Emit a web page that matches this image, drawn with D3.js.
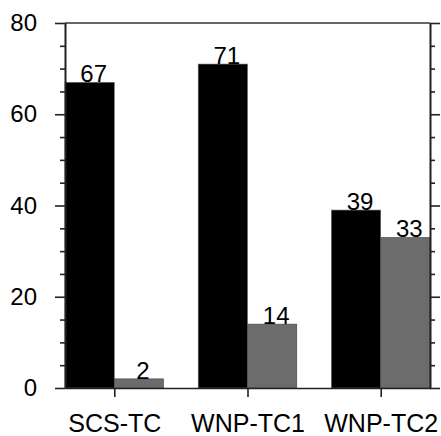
<!DOCTYPE html>
<html>
<head>
<meta charset="utf-8">
<script src="https://cdn.jsdelivr.net/npm/d3@7"></script>
<style>
  body { margin: 0; background: #fff; }
  text { font-family: "Liberation Sans", Arial, sans-serif; }
</style>
</head>
<body>
<div id="chart"></div>
<script>
// chart data
var categories = ["SCS-TC", "WNP-TC1", "WNP-TC2"];
var blackValues = [67, 71, 39];
var grayValues = [2, 14, 33];
var majorTicks = [0, 20, 40, 60, 80];
var minorTicks = [5, 10, 15, 25, 30, 35, 45, 50, 55, 65, 70, 75];

var width = 441, height = 436;
// plot box (note: "top" is reserved on window, so use prefixed names)
var plotLeft = 65, plotRight = 430, plotTop = 23, plotBottom = 388;
var barW = 0.37;

var svg = d3.select("#chart").append("svg")
  .attr("width", width)
  .attr("height", height);

var x = d3.scaleLinear().domain([0.63, 3.37]).range([plotLeft, plotRight]);
var y = d3.scaleLinear().domain([0, 80]).range([plotBottom, plotTop]);

// bars
var pos = categories.map(function(d, i) { return i + 1; });

svg.selectAll(".bar-black")
  .data(blackValues)
  .enter().append("rect")
  .attr("x", function(d, i) { return x(pos[i] - barW); })
  .attr("width", function(d, i) { return x(pos[i]) - x(pos[i] - barW); })
  .attr("y", function(d) { return y(d); })
  .attr("height", function(d) { return y(0) - y(d); })
  .attr("fill", "#000")
  .attr("stroke", "#666")
  .attr("stroke-width", 0.6);

svg.selectAll(".bar-gray")
  .data(grayValues)
  .enter().append("rect")
  .attr("x", function(d, i) { return x(pos[i]); })
  .attr("width", function(d, i) { return x(pos[i] + barW) - x(pos[i]); })
  .attr("y", function(d) { return y(d); })
  .attr("height", function(d) { return y(0) - y(d); })
  .attr("fill", "#6c6c6c")
  .attr("stroke", "#444")
  .attr("stroke-width", 0.6);

// value labels
svg.selectAll(".lab-black")
  .data(blackValues)
  .enter().append("text")
  .attr("x", function(d, i) { return x(pos[i] - barW / 2) + 4; })
  .attr("y", function(d) { return y(d); })
  .attr("text-anchor", "middle")
  .style("font-size", "24px")
  .attr("fill", "#000")
  .text(function(d) { return d; });

svg.selectAll(".lab-gray")
  .data(grayValues)
  .enter().append("text")
  .attr("x", function(d, i) { return x(pos[i] + barW / 2) + 4; })
  .attr("y", function(d) { return y(d); })
  .attr("text-anchor", "middle")
  .style("font-size", "24px")
  .attr("fill", "#000")
  .text(function(d) { return d; });

// top frame line
svg.append("line")
  .attr("x1", x(0.63)).attr("x2", x(3.37))
  .attr("y1", y(80)).attr("y2", y(80))
  .attr("stroke", "#333")
  .attr("stroke-width", 1.6);

function styleAxis(g) {
  g.selectAll("path, line").attr("stroke", "#222").attr("stroke-width", 1.6);
  g.selectAll("text").attr("fill", "#000").style("font-family", "Liberation Sans, Arial, sans-serif");
}

// left axis
var gl = svg.append("g")
  .attr("transform", "translate(" + plotLeft + ",0)")
  .call(d3.axisLeft(y).tickValues(majorTicks).tickSize(10).tickPadding(18).tickSizeOuter(0));
styleAxis(gl);
gl.selectAll("text").style("font-size", "24px");

svg.append("g")
  .attr("transform", "translate(" + plotLeft + ",0)")
  .call(d3.axisLeft(y).tickValues(minorTicks).tickSize(5).tickFormat("").tickSizeOuter(0))
  .call(styleAxis);

// right axis
svg.append("g")
  .attr("transform", "translate(" + plotRight + ",0)")
  .call(d3.axisRight(y).tickValues(majorTicks).tickSize(10).tickFormat("").tickSizeOuter(0))
  .call(styleAxis);

svg.append("g")
  .attr("transform", "translate(" + plotRight + ",0)")
  .call(d3.axisRight(y).tickValues(minorTicks).tickSize(5).tickFormat("").tickSizeOuter(0))
  .call(styleAxis);

// bottom axis
var gb = svg.append("g")
  .attr("transform", "translate(0," + plotBottom + ")")
  .call(d3.axisBottom(x).tickValues(pos).tickSize(9).tickPadding(17).tickSizeOuter(0)
    .tickFormat(function(d) { return categories[d - 1]; }));
styleAxis(gb);
gb.selectAll("text").style("font-size", "25px");
</script>
</body>
</html>
